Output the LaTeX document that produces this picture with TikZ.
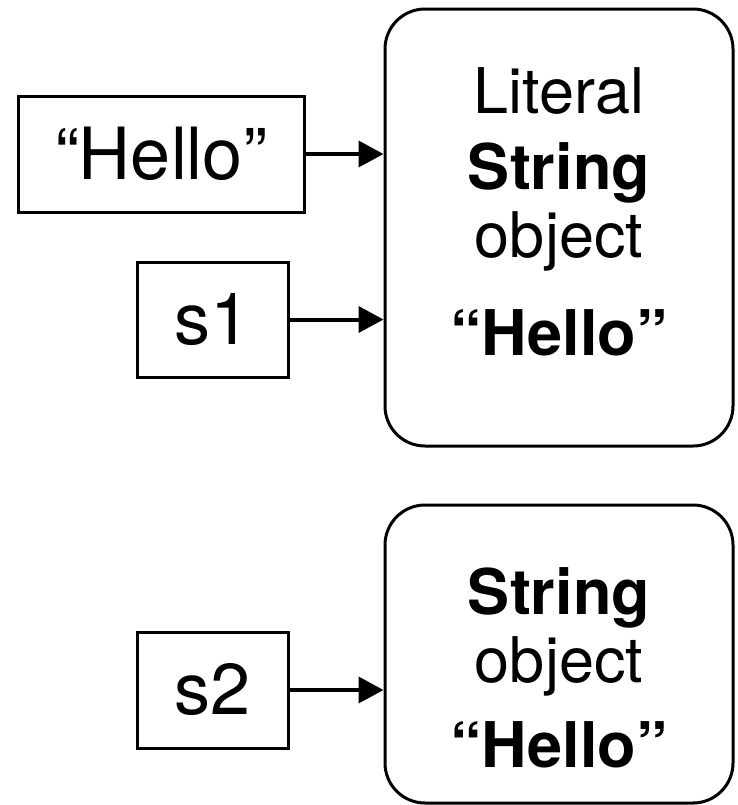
\documentclass[tikz,border=0pt]{standalone}
\usepackage{fontspec}
\setmainfont{TeX Gyre Heros}
\usetikzlibrary{arrows.meta}

\begin{document}
\begin{tikzpicture}[x=0.5pt, y=-0.5pt, >={Triangle[length=12.5pt, width=13pt]},
        var/.style={rectangle, draw, line width=1.5pt, inner sep=0pt, font=\fontsize{36}{40}\selectfont},
        obj/.style={rectangle, draw, line width=1.5pt, rounded corners=20pt, minimum width=174pt},
        objtext/.style={align=center, inner sep=0pt, font=\fontsize{31.5}{34}\selectfont},
        ref/.style={->, line width=2pt}]
        \useasboundingbox (0,0) rectangle (738,805);
        % string objects
        \node[obj, minimum height=218.5pt] (heap1) at (559,227.5) {};
        \node[obj, minimum height=149pt] (heap2) at (559,654) {};
        \node[objtext] (heap1text) at (559,211.5) {Literal\\[4pt]\textbf{String}\\object\\[15pt]\textbf{“Hello”}};
        \node[objtext] (heap2text) at (559,667.5) {\textbf{String}\\object\\[8.5pt]\textbf{“Hello”}};
        % references
        \node[var, minimum width=143pt, minimum height=58pt] (lit) at (161,154) {“Hello”};
        \node[var, minimum width=75.5pt, minimum height=57.5pt] (s1) at (212.5,319.5) {s1};
        \node[var, minimum width=75.5pt, minimum height=58pt] (s2) at (212.5,690) {s2};
        \draw[ref] (lit.east) -- (lit.east -| heap1.west);
        \draw[ref] (s1.east) -- (s1.east -| heap1.west);
        \draw[ref] (s2.east) -- (s2.east -| heap2.west);
    \end{tikzpicture}
\end{document}
